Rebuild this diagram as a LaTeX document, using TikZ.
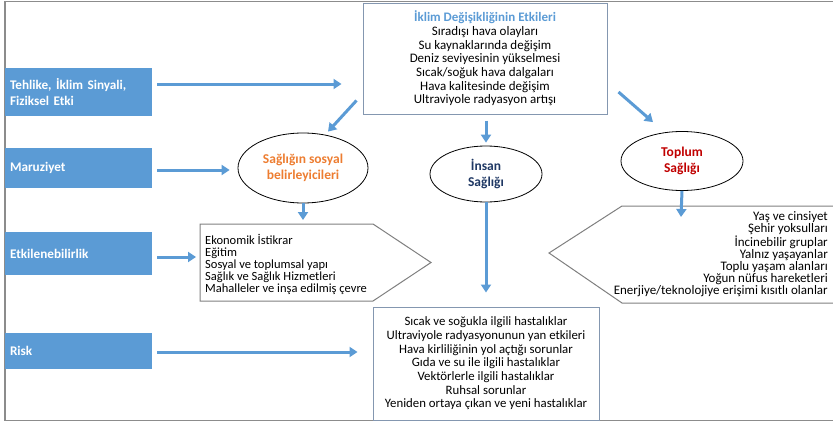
\documentclass[tikz,border=0pt]{standalone}
\usepackage{fontspec}
\setmainfont{Carlito}
\frenchspacing
\usetikzlibrary{arrows.meta,calc,shapes.geometric}
\definecolor{cblue}{HTML}{5B9BD5}
\definecolor{cframe}{HTML}{8C8C8C}
\definecolor{cbox}{HTML}{8497B0}
\definecolor{cgray}{HTML}{7F7F7F}
\definecolor{corange}{HTML}{ED7D31}
\definecolor{cnavy}{HTML}{1F3864}
\definecolor{cred}{HTML}{C00000}
\tikzset{
  bbox/.style={fill=cblue, text=white, font=\fontsize{13.2}{16.7}\selectfont\bfseries,
    minimum width=147pt, align=left, text width=137pt, inner xsep=5pt, inner ysep=0pt},
  arr/.style={draw=cblue, line width=3pt, -{Triangle[width=10pt,length=8pt]}},
  ell/.style={draw=black, line width=0.8pt, ellipse, inner sep=0pt, align=center,
    font=\fontsize{13.5}{16}\selectfont\bfseries},
  listtxt/.style={font=\fontsize{13}{13.65}\selectfont, inner sep=0pt},
}
\begin{document}
\begin{tikzpicture}[x=1pt,y=-1pt]
\useasboundingbox (0,0) rectangle (833,423);
\draw[cframe, line width=1.5pt] (833,1.5) -- (5,1.5) -- (5,420.5) -- (833,420.5);

% left blue boxes
\node[bbox, minimum height=48pt] (haz) at (78.5,92) {Tehlike, İklim Sinyali,\\Fiziksel Etki};
\node[bbox, minimum height=40pt] (exp) at (78.5,168) {Maruziyet};
\node[bbox, minimum height=43pt] (vul) at (78.5,253.5) {Etkilenebilirlik};
\node[bbox, minimum height=36pt] (risk) at (78.5,351) {Risk};

% top box
\node[draw=cbox, line width=1pt, minimum width=244pt, minimum height=111pt, align=center, listtxt] (top) at (485,58.5)
 {\textcolor{cblue}{\bfseries İklim Değişikliğinin Etkileri}\\Sıradışı hava olayları\\Su kaynaklarında değişim\\Deniz seviyesinin yükselmesi\\Sıcak/soğuk hava dalgaları\\Hava kalitesinde değişim\\Ultraviyole radyasyon artışı};

% ellipses
\node[ell, minimum width=130pt, minimum height=70pt, text=corange] (e1) at (303,168) {Sağlığın sosyal\\belirleyicileri};
\node[ell, minimum width=112pt, minimum height=56pt, text=cnavy] (e2) at (486,174) {İnsan\\Sağlığı};
\node[ell, minimum width=122pt, minimum height=59pt, text=cred] (e3) at (682,161) {Toplum\\Sağlığı};

% left pentagon (social determinants)
\draw[cgray, line width=1pt] (200,224) -- (373,224) -- (431,262.5) -- (373,301) -- (200,301) -- cycle;
\coordinate (soctop) at (303,224);
\coordinate (socwest) at (200,257);
\node[inner sep=0pt, anchor=west, align=left, font=\fontsize{12.5}{12.2}\selectfont] (soc) at (205,264.5)
 {Ekonomik İstikrar\\Eğitim\\Sosyal ve toplumsal yapı\\Sağlık ve Sağlık Hizmetleri\\Mahalleler ve inşa edilmiş çevre};

% right arrow shape (groups)
\draw[cgray, line width=1pt] (833,206) -- (622,206) -- (549,253) -- (622,303) -- (833,303);
\coordinate (grptop) at (681,206);
\node[inner sep=0pt, anchor=east, align=right, font=\fontsize{13}{11.9}\selectfont] (grp) at (828,254)
 {Yaş ve cinsiyet\\Şehir yoksulları\\İncinebilir gruplar\\Yalnız yaşayanlar\\Toplu yaşam alanları\\Yoğun nüfus hareketleri\\Enerjiye/teknolojiye erişimi kısıtlı olanlar};

% risk box
\node[draw=cbox, line width=1pt, minimum width=226pt, minimum height=113pt, align=center, inner sep=0pt, font=\fontsize{12.8}{13.65}\selectfont] (rbox) at (486,363.5)
 {Sıcak ve soğukla ilgili hastalıklar\\Ultraviyole radyasyonunun yan etkileri\\Hava kirliliğinin yol açtığı sorunlar\\Gıda ve su ile ilgili hastalıklar\\Vektörlerle ilgili hastalıklar\\Ruhsal sorunlar\\Yeniden ortaya çıkan ve yeni hastalıklar};

% arrows
\draw[arr] ($(haz.east)+(5,-8)$) -- ($(top.west)+(-21,25.5)$);
\draw[arr] ($(exp.east)+(5,2)$) -- ($(e1.west)+(-8,2)$);
\draw[arr] ($(vul.east)+(5,3.5)$) -- ($(socwest)+(-4,0)$);
\draw[arr] ($(risk.east)+(5,1)$) -- ($(rbox.west)+(-15,-11.5)$);
\draw[arr] ($(top.south west)+(-6,-14)$) -- ($(e1.north)+(25,-1)$);
\draw[arr] (e1.south) -- ($(soctop)+(0,-4)$);
\draw[arr] ($(top.south -| e2.north)+(0,6)$) -- ($(e2.north)+(0,-3)$);
\draw[arr] ($(top.east)+(11,33.5)$) -- ($(e3.north)+(-29,-9)$);
\draw[arr] (e3.south) -- ($(grptop)+(0,11)$);
\draw[arr] (e2.south) -- ($(e2.south |- rbox.north)+(0,-14)$);
\end{tikzpicture}
\end{document}
